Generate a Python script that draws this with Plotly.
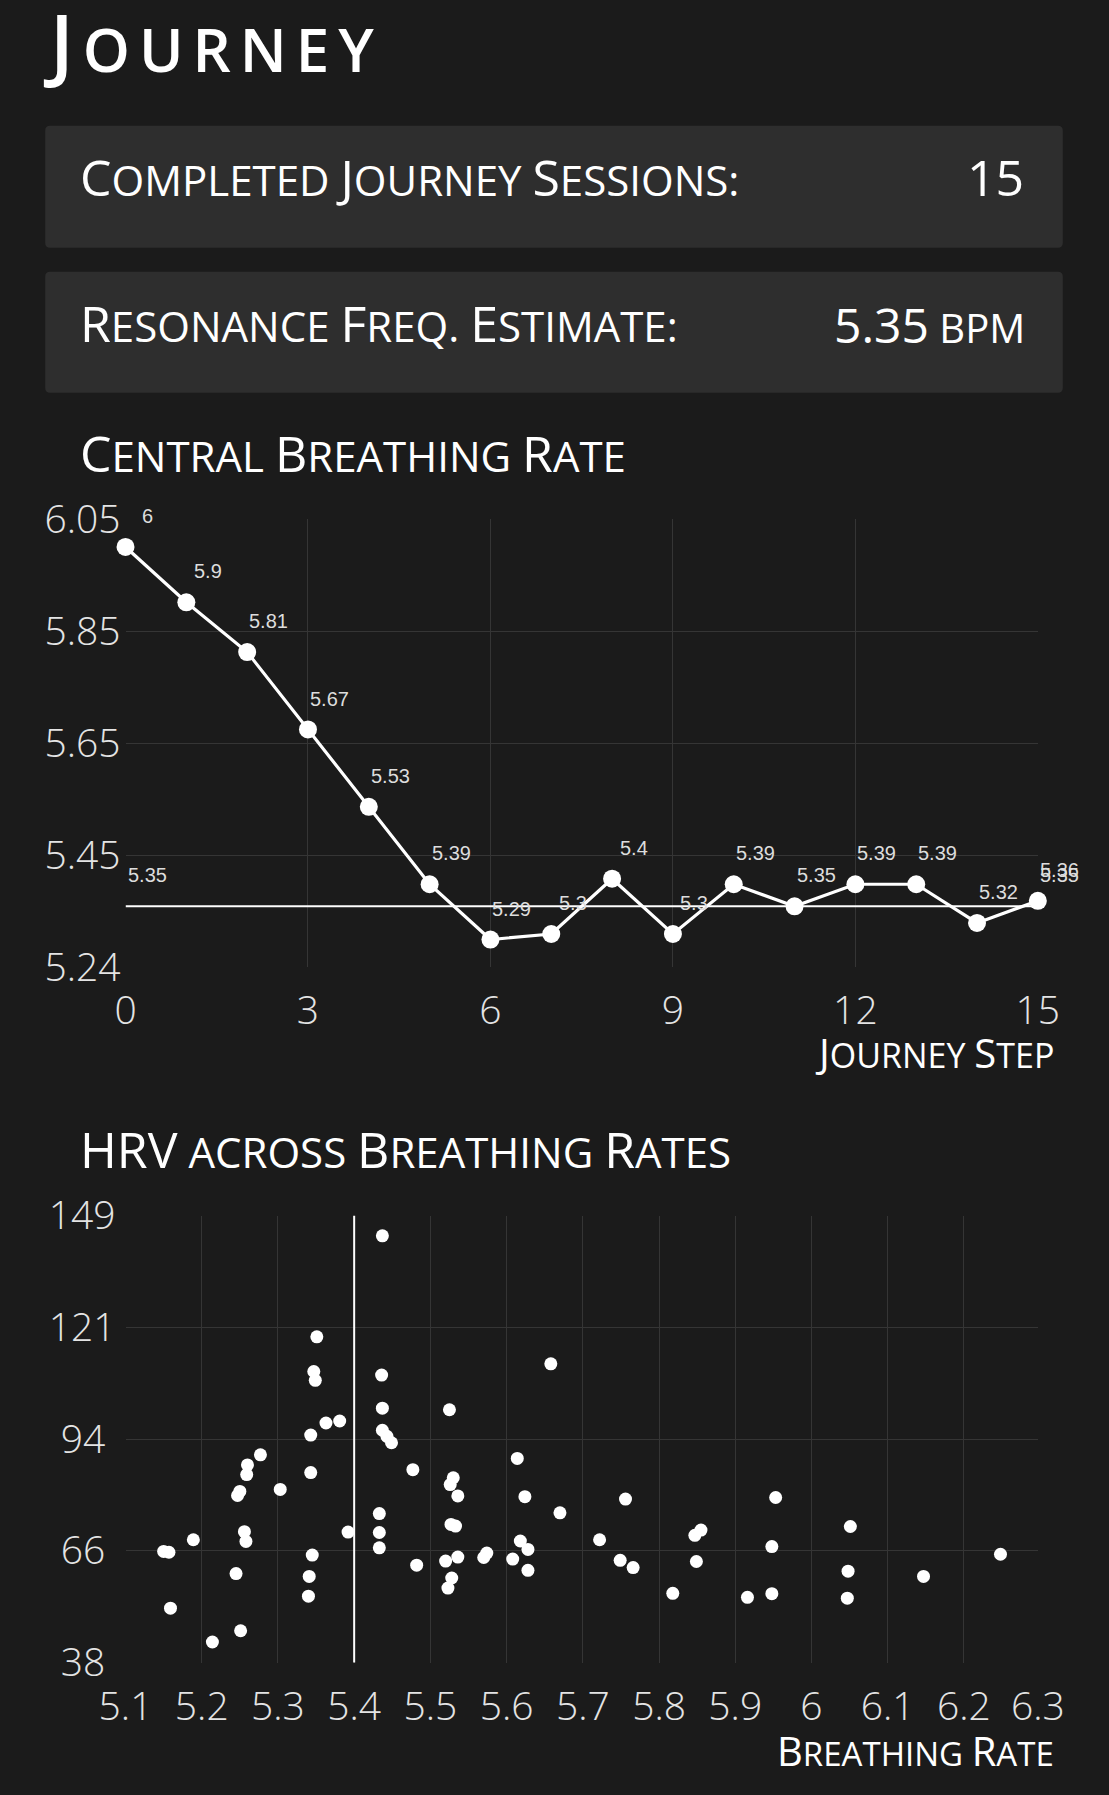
import plotly.graph_objects as go

W, H = 1109, 1795

# ---------------- data ----------------
journey_steps = list(range(16))
central_rate = [6, 5.9, 5.81, 5.67, 5.53, 5.39, 5.29, 5.3, 5.4, 5.3, 5.39, 5.35, 5.39, 5.39, 5.32, 5.36]
resonance_estimate = 5.35
completed_sessions = 15

breathing_rate = [
    5.351, 5.347, 5.349, 5.363, 5.381, 5.343, 5.277, 5.260, 5.259, 5.343,
    5.250, 5.247, 5.303, 5.256, 5.258, 5.189, 5.150, 5.157, 5.392, 5.345,
    5.245, 5.341, 5.340, 5.159, 5.251, 5.214, 5.437, 5.436, 5.437, 5.437,
    5.443, 5.449, 5.477, 5.525, 5.658, 5.530, 5.526, 5.536, 5.614, 5.624,
    5.670, 5.433, 5.433, 5.433, 5.527, 5.533, 5.482, 5.520, 5.536, 5.528,
    5.523, 5.570, 5.574, 5.608, 5.618, 5.628, 5.628, 5.756, 5.722, 5.749,
    5.766, 5.818, 5.855, 5.847, 5.849, 5.953, 5.948, 5.948, 5.916, 6.051,
    6.048, 6.047, 6.147, 6.248,
]
hrv = [
    118.9, 110.3, 108.1, 97.5, 98.0, 94.5, 89.6, 87.1, 84.7, 85.2,
    80.5, 79.5, 81.0, 70.5, 68.1, 68.5, 65.6, 65.4, 70.4, 64.7,
    60.1, 59.4, 54.5, 51.5, 45.9, 43.1, 144.0, 109.4, 101.2, 95.7,
    94.2, 92.6, 85.9, 100.8, 112.2, 83.9, 82.2, 79.4, 88.7, 79.2,
    75.2, 75.0, 70.3, 66.5, 72.3, 71.9, 62.2, 63.2, 64.2, 59.0,
    56.5, 64.1, 65.2, 63.7, 68.2, 66.1, 60.9, 78.6, 68.5, 63.4,
    61.6, 55.2, 70.9, 69.6, 63.1, 79.0, 66.8, 55.1, 54.2, 71.8,
    60.7, 54.0, 59.4, 64.9,
]
hrv_peak_rate = 5.4

step_ticks = [0, 3, 6, 9, 12, 15]
rate_range = [5.24, 6.05]
rate_ticks = [5.24, 5.4425, 5.645, 5.8475, 6.05]
rate_ticklabels = ["5.24", "5.45", "5.65", "5.85", "6.05"]

br_range = [5.1, 6.297]
br_ticks = [5.1, 5.2, 5.3, 5.4, 5.5, 5.6, 5.7, 5.8, 5.9, 6.0, 6.1, 6.2, 6.297]
br_ticklabels = ["5.1", "5.2", "5.3", "5.4", "5.5", "5.6", "5.7", "5.8", "5.9", "6", "6.1", "6.2", "6.3"]
hrv_range = [38, 149]
hrv_ticks = [38, 65.75, 93.5, 121.25, 149]
hrv_ticklabels = ["38 ", "66 ", "94 ", "121", "149"]

# ---------------- style ----------------
BG = "#1b1b1b"
BOX = "#2e2e2e"
GRID = "#353535"
TXT = "#ffffff"
TICK = "#e4e4e4"
FONT = "Open Sans"

# the photographed page carries a small border; place items so they land where intended
PAD = 27
SX = W / (W + 2 * PAD)
SY = H / (H + 2 * PAD)


def fx(p):
    return p / SX - PAD


def fy(p):
    return p / SY - PAD


def px_x(p):
    return fx(p) / W


def px_y(p):
    return 1 - fy(p) / H


def small_caps(text, small, spacing=None):
    out = []
    prev_small = False
    for c in text:
        is_small = c.islower() or (not c.isalnum() and prev_small) or c == " "
        if is_small:
            out.append(f'<span style="font-size:{small}px;text-transform:uppercase">{c}</span>')
        else:
            out.append(c)
        prev_small = is_small
    s = "".join(out)
    if spacing:
        s = f'<span style="letter-spacing:{spacing}px">{s}</span>'
    return s


def rounded_rect(x0, y0, x1, y1, r):
    X, Y = px_x, px_y
    return (
        f"M {X(x0 + r)} {Y(y0)} L {X(x1 - r)} {Y(y0)} Q {X(x1)} {Y(y0)} {X(x1)} {Y(y0 + r)} "
        f"L {X(x1)} {Y(y1 - r)} Q {X(x1)} {Y(y1)} {X(x1 - r)} {Y(y1)} "
        f"L {X(x0 + r)} {Y(y1)} Q {X(x0)} {Y(y1)} {X(x0)} {Y(y1 - r)} "
        f"L {X(x0)} {Y(y0 + r)} Q {X(x0)} {Y(y0)} {X(x0 + r)} {Y(y0)} Z"
    )


fig = go.Figure()

# chart 1: central breathing rate
fig.add_trace(go.Scatter(
    x=[journey_steps[0], journey_steps[-1]], y=[resonance_estimate, resonance_estimate],
    mode="lines", line=dict(color="#ffffff", width=2), xaxis="x", yaxis="y",
    hoverinfo="skip", showlegend=False, cliponaxis=False,
))
fig.add_trace(go.Scatter(
    x=journey_steps, y=central_rate, mode="lines+markers",
    line=dict(color="#ffffff", width=3.2), marker=dict(color="#ffffff", size=18),
    xaxis="x", yaxis="y", showlegend=False, cliponaxis=False,
))

# chart 2: HRV across breathing rates
fig.add_trace(go.Scatter(
    x=breathing_rate, y=hrv, mode="markers",
    marker=dict(color="#ffffff", size=13),
    xaxis="x2", yaxis="y2", showlegend=False, cliponaxis=False,
))

shapes = [
    dict(type="path", xref="paper", yref="paper", path=rounded_rect(44, 124, 1064, 246, 5),
         fillcolor=BOX, line=dict(width=0), layer="below"),
    dict(type="path", xref="paper", yref="paper", path=rounded_rect(44, 270, 1064, 391, 5),
         fillcolor=BOX, line=dict(width=0), layer="below"),
    dict(type="line", xref="x2", yref="y2 domain", x0=hrv_peak_rate, x1=hrv_peak_rate, y0=0, y1=1,
         line=dict(color="#ffffff", width=2), layer="above"),
]

annotations = []


def head(text, x, y_bottom, big, small, anchor="left", spacing=None, color=TXT, weight=400):
    annotations.append(dict(
        x=px_x(x), y=px_y(y_bottom), xref="paper", yref="paper",
        xanchor=anchor, yanchor="bottom", showarrow=False,
        text=small_caps(text, small, spacing),
        font=dict(family=FONT, size=big, color=color, weight=weight),
    ))


head("Journey", 40, 95.5, 79, 60, spacing=9, weight=600)
head("Completed Journey Sessions:", 77, 211, 50, 42)
head(f"{completed_sessions}", 1027, 211, 50, 42, anchor="right")
head("Resonance Freq. Estimate:", 77, 357, 50, 42)
head(f"{resonance_estimate:g} bpm", 1028, 357, 48, 40, anchor="right")
head("Central Breathing Rate", 77, 487, 50, 42)
head("HRV across Breathing Rates", 77, 1184, 50, 42)
head("Journey Step", 1057, 1081, 40, 34, anchor="right")
head("Breathing Rate", 1057, 1779, 40, 33, anchor="right")

lab_font = dict(family="Liberation Sans, Arial", size=20, color="#dddddd")
XS, YS = 20.5 / SX, 30 / SY
for s, v in zip(journey_steps, central_rate):
    annotations.append(dict(x=s, y=v, xref="x", yref="y", text=f"{v:g}", showarrow=False,
                            xshift=XS, yshift=YS, xanchor="center", yanchor="middle", font=lab_font))
for s in (journey_steps[0], journey_steps[-1]):
    annotations.append(dict(x=s, y=resonance_estimate, xref="x", yref="y", text=f"{resonance_estimate:g}",
                            showarrow=False, xshift=XS, yshift=YS, xanchor="center", yanchor="middle",
                            font=lab_font))

tickfont = dict(family=FONT, size=39, color=TICK, weight=300)
common = dict(showgrid=True, gridcolor=GRID, gridwidth=1, zeroline=False, showline=False,
              ticks="", tickfont=tickfont, fixedrange=True)

fig.update_layout(
    width=W, height=H, margin=dict(l=0, r=0, t=0, b=0),
    paper_bgcolor=BG, plot_bgcolor=BG, showlegend=False,
    shapes=shapes, annotations=annotations,
    xaxis=dict(domain=[px_x(124.5), px_x(1039)], anchor="y", range=[0, 15],
               tickvals=step_ticks, ticktext=[str(t) for t in step_ticks],
               ticklabelstandoff=17, **common),
    yaxis=dict(domain=[px_y(965.7), px_y(517.7)], anchor="x", range=rate_range,
               tickvals=rate_ticks, ticktext=rate_ticklabels, ticklabelstandoff=4, **common),
    xaxis2=dict(domain=[px_x(124.5), px_x(1039)], anchor="y2", range=br_range,
                tickvals=br_ticks, ticktext=br_ticklabels, ticklabelstandoff=17, **common),
    yaxis2=dict(domain=[px_y(1661.3), px_y(1214.3)], anchor="x2", range=hrv_range,
                tickvals=hrv_ticks, ticktext=hrv_ticklabels, ticklabelstandoff=9, **common),
)

fig.write_html("out.html")
